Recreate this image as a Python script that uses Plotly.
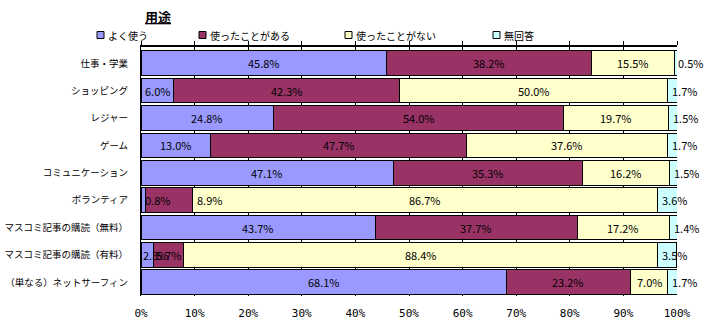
import plotly.graph_objects as go

categories = ["仕事・学業", "ショッピング", "レジャー", "ゲーム", "コミュニケーション",
              "ボランティア", "マスコミ記事の購読（無料）", "マスコミ記事の購読（有料）",
              "（単なる）ネットサーフィン"]
series_names = ["よく使う", "使ったことがある", "使ったことがない", "無回答"]
yoku = [45.8, 6.0, 24.8, 13.0, 47.1, 0.8, 43.7, 2.3, 68.1]
atta = [38.2, 42.3, 54.0, 47.7, 35.3, 8.9, 37.7, 5.7, 23.2]
nai = [15.5, 50.0, 19.7, 37.6, 16.2, 86.7, 17.2, 88.4, 7.0]
mukaitou = [0.5, 1.7, 1.5, 1.7, 1.5, 3.6, 1.4, 3.5, 1.7]
tick_vals = [0, 10, 20, 30, 40, 50, 60, 70, 80, 90, 100]
tick_text = ["0%", "10%", "20%", "30%", "40%", "50%", "60%", "70%", "80%", "90%", "100%"]

colors = ["#9999FF", "#993366", "#FFFFCC", "#CCFFFF"]
series = [yoku, atta, nai, mukaitou]

# style: per-label pixel nudges (category index, series index) -> xshift
label_nudge = {(5, 1): 40, (7, 0): 0}

label_font = dict(family="Noto Sans CJK JP, Liberation Sans", size=11, color="black")

fig = go.Figure()
for name, vals, col in zip(series_names, series, colors):
    fig.add_trace(go.Bar(
        y=categories, x=vals, name=name, orientation="h",
        marker=dict(color=col, line=dict(color="black", width=1)),
        showlegend=False, hoverinfo="x+name",
    ))

annotations = []
for ci, cat in enumerate(categories):
    start = 0.0
    for si, vals in enumerate(series):
        v = vals[ci]
        txt = f"{v:.1f}%"
        if v < 5:
            ann = dict(x=start, y=cat, xref="x", yref="y", text=txt, showarrow=False,
                       xanchor="left", xshift=2, font=label_font)
        else:
            ann = dict(x=start + v / 2, y=cat, xref="x", yref="y", text=txt, showarrow=False,
                       xanchor="center", font=label_font)
        if (ci, si) in label_nudge:
            ann["xshift"] = label_nudge[(ci, si)]
        annotations.append(ann)
        start += v

# title
annotations.append(dict(x=(143 - 141) / 536, y=(296 - 16) / 249, xref="paper", yref="paper",
                        text="<b><u>用途</u></b>", showarrow=False, xanchor="left", yanchor="middle",
                        font=dict(family="Noto Sans CJK JP", size=13, color="black")))

# manual legend
legend_x = [97, 199, 345, 493]
shapes = []
for name, col, lx in zip(series_names, colors, legend_x):
    xp = (lx - 141) / 536
    yp = (296 - 35) / 249
    shapes.append(dict(type="rect", xref="paper", yref="paper", xsizemode="pixel", ysizemode="pixel",
                       xanchor=xp, yanchor=yp, x0=0, x1=7, y0=-3.5, y1=3.5,
                       fillcolor=col, line=dict(color="black", width=1)))
    annotations.append(dict(x=xp, y=yp, xref="paper", yref="paper", text=name, showarrow=False,
                            xanchor="left", yanchor="middle", xshift=9,
                            font=dict(family="Noto Sans CJK JP", size=10, color="black")))

# dummy trace for bottom label axis
fig.add_trace(go.Scatter(x=[0, 100], y=[categories[0], categories[0]], xaxis="x2", mode="markers",
                         marker=dict(opacity=0), showlegend=False, hoverinfo="skip"))

fig.update_layout(
    width=706, height=333,
    margin=dict(l=141, r=29, t=47, b=37, autoexpand=False),
    barmode="stack", bargap=0.1,
    plot_bgcolor="white", paper_bgcolor="white",
    showlegend=False,
    annotations=annotations, shapes=shapes,
    xaxis=dict(range=[0, 100], side="top", tickvals=tick_vals, showticklabels=False,
               ticks="outside", ticklen=4, tickcolor="black", tickwidth=1,
               showline=True, linecolor="black", linewidth=2, automargin=False,
               showgrid=True, gridcolor="black", gridwidth=1, zeroline=False),
    xaxis2=dict(range=[0, 100], overlaying="x", side="bottom", tickvals=tick_vals, ticktext=tick_text,
                showline=False, showgrid=False, zeroline=False, ticks="", ticklabelstandoff=9,
                automargin=False,
                tickfont=dict(family="DejaVu Sans Mono", size=11, color="black")),
    yaxis=dict(autorange="reversed", showline=True, linecolor="black", linewidth=1, ticks="",
               ticklabelstandoff=10, showgrid=False, automargin=False,
               tickfont=dict(family="Noto Sans CJK JP", size=9.5, color="black")),
    font=dict(family="Noto Sans CJK JP", color="black"),
)

fig.write_html("out.html")
